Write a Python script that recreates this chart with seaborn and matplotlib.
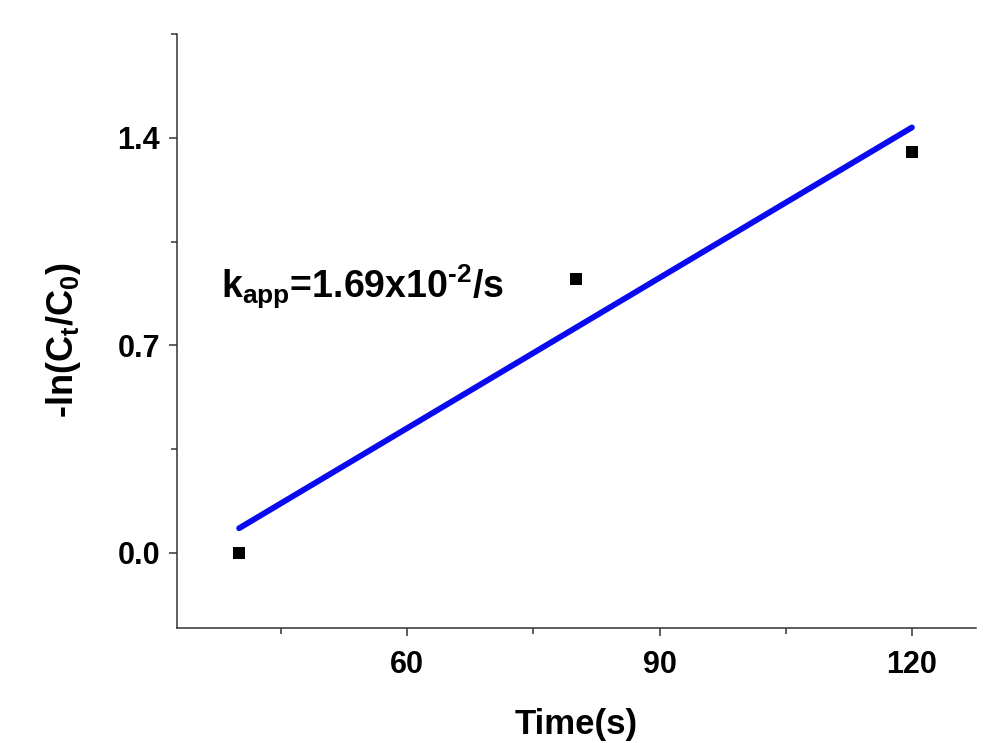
import matplotlib
matplotlib.use("Agg")
import matplotlib.pyplot as plt
from matplotlib.ticker import FixedLocator
import pandas as pd
import seaborn as sns

# Measured kinetics: -ln(Ct/C0) versus reaction time
time_s = [40, 80, 120]
neg_ln_ratio = [0.0, 0.923, 1.353]
x_ticks = [60, 90, 120]
x_minor = [45, 75, 105]
y_ticks = [0.0, 0.7, 1.4]
y_minor = [0.35, 1.05, 1.75]
k_label = r"k$_{\mathrm{app}}$=1.69x10$^{\text{-}2}$/s"

sns.set_theme(style="ticks")
plt.rcParams["font.family"] = ["Liberation Sans", "DejaVu Sans"]
plt.rcParams["font.weight"] = "bold"
plt.rcParams["mathtext.fontset"] = "custom"
plt.rcParams["mathtext.rm"] = "Liberation Sans:bold"
plt.rcParams["mathtext.it"] = "Liberation Sans:bold"
plt.rcParams["mathtext.bf"] = "Liberation Sans:bold"
for key in ("text.color", "axes.labelcolor", "xtick.labelcolor", "ytick.labelcolor"):
    plt.rcParams[key] = "black"

df = pd.DataFrame({"t": time_s, "y": neg_ln_ratio})

fig = plt.figure(figsize=(10.05, 7.43), dpi=100)
ax = fig.add_axes([0.176, 0.155, 0.795, 0.799])

# Linear fit through the measurements
sns.regplot(data=df, x="t", y="y", ax=ax, scatter=False, ci=None, truncate=True,
            line_kws={"color": "#0a0af0", "lw": 4.2, "solid_capstyle": "round"})
sns.scatterplot(data=df, x="t", y="y", ax=ax, marker="s", s=80, color="black",
                edgecolor="black", linewidth=0, zorder=5)

ax.set_xlim(32.6, 127.6)
ax.set_ylim(-0.254, 1.75)
ax.xaxis.set_major_locator(FixedLocator(x_ticks))
ax.xaxis.set_minor_locator(FixedLocator(x_minor))
ax.yaxis.set_major_locator(FixedLocator(y_ticks))
ax.yaxis.set_minor_locator(FixedLocator(y_minor))
ax.set_xticklabels([f"{v:d}" for v in x_ticks])
ax.set_yticklabels([f"{v:.1f}" for v in y_ticks])

for side in ("top", "right"):
    ax.spines[side].set_visible(False)
for side in ("left", "bottom"):
    ax.spines[side].set_color("#333333")
    ax.spines[side].set_linewidth(1.1)

ax.tick_params(axis="both", which="major", length=6, width=1.1, color="#333333",
               labelsize=22, direction="out")
ax.tick_params(axis="x", which="major", pad=10)
ax.tick_params(axis="y", which="major", pad=6)
ax.tick_params(axis="both", which="minor", length=4, width=1.1, color="#333333",
               direction="out")
for lab in ax.get_xticklabels() + ax.get_yticklabels():
    lab.set_fontweight("bold")

ax.set_xlabel("Time(s)", fontsize=25, fontweight="bold", labelpad=20)
ax.set_ylabel(r"-ln(C$_{\mathrm{t}}$/C$_{\mathrm{0}}$)", fontsize=26,
              fontweight="bold")
ax.yaxis.set_label_coords(-0.118, 0.485)

ax.text(37.9, 0.86, k_label, fontsize=27, fontweight="bold", ha="left",
        va="baseline", color="black")

fig.savefig("out.png", dpi=100)
